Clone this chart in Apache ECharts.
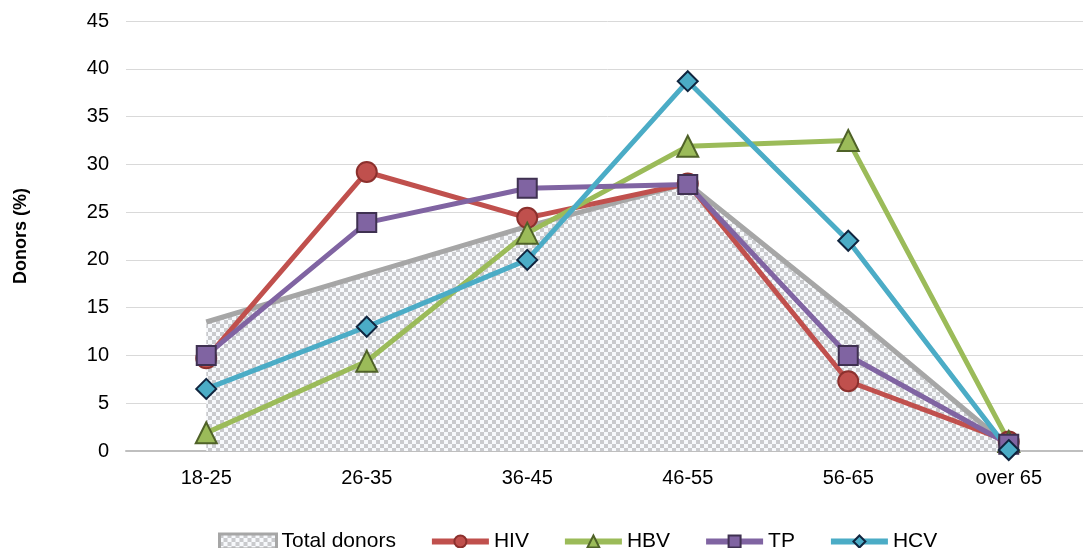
<!DOCTYPE html>
<html>
<head>
<meta charset="utf-8">
<script src="https://cdn.jsdelivr.net/npm/echarts@6/dist/echarts.min.js"></script>
<style>
  html, body { margin: 0; padding: 0; background: #fff; overflow: hidden; }
</style>
</head>
<body>
<div id="main" style="width: 1100px; height: 560px"></div>
<script>
// data
const ageGroups = ['18-25', '26-35', '36-45', '46-55', '56-65', 'over 65'];
const totalDonors = [13.5, 18.5, 23.5, 28, 14.5, 0.5];
const hiv = [9.7, 29.2, 24.4, 28, 7.3, 1];
const hbv = [1.9, 9.4, 22.8, 31.9, 32.5, 1];
const tp = [10, 23.9, 27.5, 27.9, 10, 0.7];
const hcv = [6.5, 13, 20, 38.7, 22, 0.1];

// checkered fill like the original area
function makePattern() {
  const c = document.createElement('canvas');
  c.width = 8; c.height = 8;
  const g = c.getContext('2d');
  g.fillStyle = '#f7f9fc';
  g.fillRect(0, 0, 8, 8);
  g.fillStyle = '#c9cacd';
  g.fillRect(0, 0, 4, 4);
  g.fillRect(4, 4, 4, 4);
  return { image: c, repeat: 'repeat' };
}
const pattern = makePattern();

const font = 'Liberation Sans, Arial, sans-serif';

function lineSeries(name, data, color, border, symbol, size) {
  return {
    name: name,
    type: 'line',
    data: data,
    symbol: symbol,
    symbolSize: size,
    z: 3,
    lineStyle: { color: color, width: 5 },
    itemStyle: { color: color, borderColor: border, borderWidth: 2 }
  };
}

function legendItem(name) {
  return { name: name, lineStyle: { width: 6 } };
}

const myChart = echarts.init(document.getElementById('main'));
const option = {
  animation: false,
  textStyle: { fontFamily: font },
  grid: { left: 126, width: 963, top: 21, height: 430 },
  legend: {
    top: 526,
    left: 213,
    itemWidth: 57,
    itemHeight: 15,
    itemGap: 33,
    textStyle: { fontSize: 21, color: '#000', fontFamily: font },
    data: [
      { name: 'Total donors', icon: 'rect', itemStyle: { color: pattern, borderColor: '#a6a6a6', borderWidth: 3 } },
      legendItem('HIV'), legendItem('HBV'), legendItem('TP'), legendItem('HCV')
    ]
  },
  xAxis: {
    type: 'category',
    data: ageGroups,
    boundaryGap: true,
    axisLine: { lineStyle: { color: '#bfbfbf', width: 2 } },
    axisTick: { show: false },
    axisLabel: { fontSize: 20, color: '#000', margin: 17, fontFamily: font }
  },
  yAxis: {
    type: 'value',
    min: 0,
    max: 45,
    interval: 5,
    name: 'Donors (%)',
    nameLocation: 'middle',
    nameGap: 96,
    nameRotate: 90,
    nameTextStyle: { fontSize: 18, fontWeight: 'bold', color: '#000', fontFamily: font },
    axisLine: { show: false },
    axisTick: { show: false },
    axisLabel: { fontSize: 20, color: '#000', margin: 17, fontFamily: font },
    splitLine: { lineStyle: { color: '#d9d9d9', width: 1 } }
  },
  series: [
    {
      name: 'Total donors',
      type: 'line',
      data: totalDonors,
      symbol: 'none',
      z: 1,
      lineStyle: { color: '#a6a6a6', width: 5 },
      itemStyle: { color: '#a6a6a6' },
      areaStyle: { color: pattern, opacity: 1 }
    },
    lineSeries('HIV', hiv, '#c0504d', '#8c302d', 'circle', 20),
    lineSeries('HBV', hbv, '#9bbb59', '#4f6228', 'triangle', 21),
    lineSeries('TP', tp, '#8064a2', '#3f3151', 'rect', 19),
    lineSeries('HCV', hcv, '#4bacc6', '#10253f', 'diamond', 20)
  ]
};
myChart.setOption(option);
</script>
</body>
</html>
